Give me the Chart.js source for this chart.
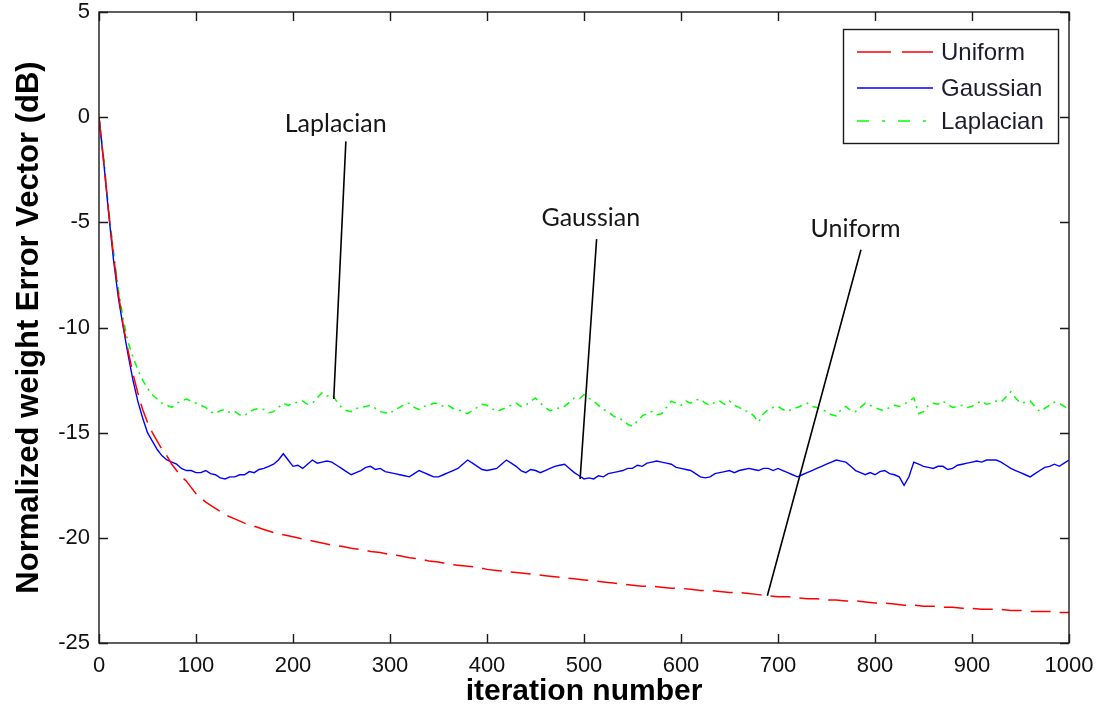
<!DOCTYPE html>
<html>
<head>
<meta charset="utf-8">
<script src="https://cdn.jsdelivr.net/npm/chart.js@4.4.1/dist/chart.umd.min.js"></script>
<style>
  html, body { margin: 0; padding: 0; background: #fff; }
  #chart { display: block; }
</style>
</head>
<body>
<canvas id="chart" width="1100" height="712"></canvas>
<script>
// iteration index for the smooth uniform curve
const iterations = [
  0, 5, 10, 15, 20, 25, 30, 35, 40, 45, 50, 55, 60, 65, 70, 75, 80, 85, 90, 95, 100,
  110, 120, 130, 140, 150, 160, 170, 180, 190, 200,
  210, 220, 230, 240, 250, 260, 270, 280, 290, 300,
  310, 320, 330, 340, 350, 360, 370, 380, 390, 400,
  410, 420, 430, 440, 450, 460, 470, 480, 490, 500,
  510, 520, 530, 540, 550, 560, 570, 580, 590, 600,
  610, 620, 630, 640, 650, 660, 670, 680, 690, 700,
  710, 720, 730, 740, 750, 760, 770, 780, 790, 800,
  810, 820, 830, 840, 850, 860, 870, 880, 890, 900,
  910, 920, 930, 940, 950, 960, 970, 980, 990, 1000
];

// iteration index for the noisy gaussian / laplacian curves
const iterationsFine = [
  0, 5, 10, 15, 20, 25, 30, 35, 40, 45, 50, 55, 60, 65, 70, 75, 80, 85, 90, 95, 100,
  105, 110, 115, 120, 125, 130, 135, 140, 145, 150, 155, 160, 165, 170, 175, 180, 185, 190, 195, 200,
  205, 210, 215, 220, 225, 230, 235, 240, 245, 250, 255, 260, 265, 270, 275, 280, 285, 290, 295, 300,
  305, 310, 315, 320, 325, 330, 335, 340, 345, 350, 355, 360, 365, 370, 375, 380, 385, 390, 395, 400,
  405, 410, 415, 420, 425, 430, 435, 440, 445, 450, 455, 460, 465, 470, 475, 480, 485, 490, 495, 500,
  505, 510, 515, 520, 525, 530, 535, 540, 545, 550, 555, 560, 565, 570, 575, 580, 585, 590, 595, 600,
  605, 610, 615, 620, 625, 630, 635, 640, 645, 650, 655, 660, 665, 670, 675, 680, 685, 690, 695, 700,
  705, 710, 715, 720, 725, 730, 735, 740, 745, 750, 755, 760, 765, 770, 775, 780, 785, 790, 795, 800,
  805, 810, 815, 820, 825, 830, 835, 840, 845, 850, 855, 860, 865, 870, 875, 880, 885, 890, 895, 900,
  905, 910, 915, 920, 925, 930, 935, 940, 945, 950, 955, 960, 965, 970, 975, 980, 985, 990, 995, 1000
];

// normalized weight error vector in dB for each noise type
const uniformDb = [
  0, -2.2, -4.5, -6.6, -8.4, -9.9, -11.1, -12.2, -13.1, -13.9, -14.5, -15.0, -15.4, -15.8, -16.1, -16.5, -16.8, -17.1, -17.3, -17.6, -17.9,
  -18.3, -18.6, -18.9, -19.1, -19.3, -19.45, -19.6, -19.75, -19.85, -19.95,
  -20.05, -20.15, -20.25, -20.35, -20.4, -20.5, -20.55, -20.65, -20.7, -20.8,
  -20.85, -20.95, -21.0, -21.1, -21.15, -21.25, -21.3, -21.35, -21.4, -21.5,
  -21.55, -21.6, -21.65, -21.7, -21.75, -21.8, -21.85, -21.9, -21.95, -22.0,
  -22.05, -22.1, -22.15, -22.2, -22.25, -22.3, -22.3, -22.35, -22.4, -22.4,
  -22.45, -22.5, -22.5, -22.55, -22.6, -22.6, -22.65, -22.7, -22.75, -22.8,
  -22.8, -22.85, -22.9, -22.9, -22.95, -22.95, -23.0, -23.0, -23.05, -23.1,
  -23.1, -23.15, -23.2, -23.2, -23.25, -23.25, -23.3, -23.3, -23.35, -23.35,
  -23.4, -23.4, -23.4, -23.45, -23.45, -23.5, -23.5, -23.5, -23.55, -23.55
];

const gaussianDb = [
  0, -2.2, -4.6, -6.8, -8.6, -10.0, -11.3, -12.5, -13.5, -14.3, -15.0, -15.4, -15.8, -16.1, -16.3, -16.4, -16.5, -16.7, -16.8, -16.8, -16.9,
  -16.9, -16.8, -16.95, -17.0, -17.15, -17.2, -17.1, -17.1, -17.0, -17.0, -16.85, -16.9, -16.75, -16.7, -16.6, -16.5, -16.3, -16.0, -16.3, -16.6,
  -16.55, -16.7, -16.5, -16.3, -16.45, -16.4, -16.35, -16.4, -16.55, -16.7, -16.85, -17.0, -16.9, -16.8, -16.65, -16.6, -16.75, -16.7, -16.85, -16.9,
  -16.95, -17.0, -17.05, -17.1, -16.95, -16.8, -16.9, -17.0, -17.1, -17.1, -17.0, -16.9, -16.8, -16.7, -16.5, -16.3, -16.45, -16.6, -16.75, -16.8,
  -16.75, -16.7, -16.5, -16.3, -16.45, -16.6, -16.8, -16.9, -16.75, -16.8, -16.9, -16.8, -16.7, -16.6, -16.55, -16.5, -16.7, -16.9, -17.05, -17.2,
  -17.15, -17.2, -17.05, -17.1, -16.95, -16.9, -16.85, -16.8, -16.7, -16.7, -16.55, -16.6, -16.45, -16.4, -16.35, -16.4, -16.45, -16.5, -16.65, -16.7,
  -16.75, -16.8, -16.95, -17.1, -17.15, -17.1, -16.95, -16.9, -16.85, -16.8, -16.9, -16.8, -16.75, -16.7, -16.75, -16.8, -16.7, -16.7, -16.8, -16.7,
  -16.8, -16.9, -17.0, -17.1, -17.0, -16.9, -16.8, -16.7, -16.6, -16.5, -16.4, -16.3, -16.35, -16.4, -16.6, -16.8, -16.9, -17.0, -16.9, -17.0,
  -16.85, -16.8, -16.95, -17.0, -17.1, -17.5, -17.1, -16.4, -16.5, -16.6, -16.65, -16.7, -16.6, -16.6, -16.75, -16.7, -16.55, -16.5, -16.45, -16.4,
  -16.35, -16.4, -16.3, -16.3, -16.3, -16.4, -16.55, -16.7, -16.8, -16.9, -17.0, -17.1, -16.95, -16.8, -16.65, -16.6, -16.5, -16.6, -16.45, -16.3
];

const laplacianDb = [
  0, -2.0, -4.4, -6.4, -8.2, -9.6, -10.7, -11.4, -12.0, -12.5, -12.9, -13.2, -13.4, -13.6, -13.7, -13.8, -13.6, -13.5, -13.4, -13.5, -13.6,
  -13.7, -13.8, -14.0, -14.1, -13.95, -13.9, -14.05, -14.0, -14.15, -14.2, -14.0, -13.9, -13.85, -13.9, -14.05, -14.0, -13.8, -13.6, -13.7, -13.6,
  -13.55, -13.5, -13.65, -13.6, -13.35, -13.1, -13.25, -13.2, -13.5, -13.8, -13.95, -14.0, -13.85, -13.8, -13.75, -13.7, -13.85, -14.0, -14.05, -14.1,
  -13.9, -13.8, -13.65, -13.6, -13.8, -13.9, -13.75, -13.7, -13.6, -13.6, -13.75, -13.7, -13.85, -13.9, -14.0, -14.1, -13.95, -13.8, -13.65, -13.7,
  -13.85, -14.0, -13.9, -13.8, -13.7, -13.6, -13.75, -13.7, -13.5, -13.35, -13.6, -13.8, -13.95, -13.9, -13.8, -13.75, -13.55, -13.35, -13.4, -13.2,
  -13.35, -13.5, -13.7, -13.9, -14.0, -14.2, -14.3, -14.4, -14.6, -14.7, -14.45, -14.2, -14.1, -14.0, -14.15, -14.1, -13.8, -13.5, -13.6, -13.7,
  -13.5, -13.6, -13.45, -13.4, -13.6, -13.7, -13.55, -13.5, -13.65, -13.5, -13.7, -13.8, -13.95, -14.0, -14.2, -14.5, -14.1, -13.9, -13.8, -13.75,
  -13.9, -14.0, -13.85, -13.8, -13.7, -13.6, -13.75, -13.8, -13.9, -14.0, -14.15, -14.2, -13.9, -13.75, -13.95, -14.0, -13.8, -13.6, -13.7, -13.8,
  -13.9, -13.95, -13.8, -13.7, -13.75, -13.65, -13.5, -13.35, -14.1, -14.0, -13.7, -13.6, -13.65, -13.5, -13.65, -13.8, -13.75, -13.7, -13.8, -13.75,
  -13.6, -13.5, -13.65, -13.6, -13.5, -13.55, -13.3, -13.05, -13.35, -13.6, -13.55, -13.5, -13.75, -14.0, -13.85, -13.7, -13.55, -13.6, -13.75, -13.9
];

const xTickValues = [0, 100, 200, 300, 400, 500, 600, 700, 800, 900, 1000];
const yTickValues = [-25, -20, -15, -10, -5, 0, 5];

// callout labels: text, label position, then the line from top to the curve
const calloutText = ['Laplacian', 'Gaussian', 'Uniform'];
const calloutLabelAt = [[244, -0.3], [507, -4.8], [780, -5.3]];
const calloutLineFrom = [[254.5, -1.15], [513, -5.8], [785.5, -6.3]];
const calloutLineTo = [[242, -13.4], [496, -17.2], [689, -22.75]];

const toPoints = (xs, ys) => ys.map((y, i) => ({ x: xs[i], y: y }));

const tickFont = { family: "'Liberation Sans', Arial, sans-serif", size: 22 };
const xTitleFont = { family: "'Liberation Sans', Arial, sans-serif", size: 30, weight: 'bold' };
const yTitleFont = { family: "'Liberation Sans', Arial, sans-serif", size: 31, weight: 'bold' };

// box, inward tick marks, callouts and legend
const matlabStyle = {
  id: 'matlabStyle',
  afterDatasetsDraw(chart) {
    const ctx = chart.ctx;
    const a = chart.chartArea;
    const xs = chart.scales.x;
    const ys = chart.scales.y;
    const tl = 9;

    ctx.save();
    ctx.strokeStyle = '#1a1a1a';
    ctx.lineWidth = 1.4;
    ctx.setLineDash([]);
    ctx.strokeRect(a.left, a.top, a.right - a.left, a.bottom - a.top);

    ctx.beginPath();
    xs.ticks.forEach(t => {
      const px = Math.round(xs.getPixelForValue(t.value)) + 0.5;
      ctx.moveTo(px, a.bottom); ctx.lineTo(px, a.bottom - tl);
      ctx.moveTo(px, a.top); ctx.lineTo(px, a.top + tl);
    });
    ys.ticks.forEach(t => {
      const py = Math.round(ys.getPixelForValue(t.value)) + 0.5;
      ctx.moveTo(a.left, py); ctx.lineTo(a.left + tl, py);
      ctx.moveTo(a.right, py); ctx.lineTo(a.right - tl, py);
    });
    ctx.stroke();

    // callouts
    ctx.strokeStyle = '#000';
    ctx.lineWidth = 1.6;
    ctx.beginPath();
    calloutLineFrom.forEach((p, i) => {
      const q = calloutLineTo[i];
      ctx.moveTo(xs.getPixelForValue(p[0]), ys.getPixelForValue(p[1]));
      ctx.lineTo(xs.getPixelForValue(q[0]), ys.getPixelForValue(q[1]));
    });
    ctx.stroke();

    ctx.fillStyle = '#161616';
    ctx.font = "25px Lato, 'Open Sans', sans-serif";
    ctx.textAlign = 'center';
    ctx.textBaseline = 'middle';
    calloutText.forEach((txt, i) => {
      const p = calloutLabelAt[i];
      ctx.fillText(txt, xs.getPixelForValue(p[0]), ys.getPixelForValue(p[1]));
    });

    // legend
    const lx = a.right - 226, ly = a.top + 17, lw = 215, lh = 114;
    ctx.fillStyle = '#fff';
    ctx.fillRect(lx, ly, lw, lh);
    ctx.strokeStyle = '#1a1a1a';
    ctx.lineWidth = 1.4;
    ctx.strokeRect(lx + 0.5, ly + 0.5, lw, lh);

    const legendDash = [[34, 11], [], [12, 13, 3, 13]];
    const rowY = [23, 59, 92];
    ctx.font = "24px 'Liberation Sans', Arial, sans-serif";
    ctx.textAlign = 'left';
    chart.data.datasets.forEach((ds, i) => {
      const y = ly + rowY[i];
      ctx.strokeStyle = ds.borderColor;
      ctx.lineWidth = 1.5;
      ctx.setLineDash(legendDash[i]);
      ctx.beginPath();
      ctx.moveTo(lx + 14, y);
      ctx.lineTo(lx + 90, y);
      ctx.stroke();
      ctx.setLineDash([]);
      ctx.fillStyle = '#1c1c2c';
      ctx.fillText(ds.label, lx + 98, y + 1);
    });
    ctx.restore();
  }
};

new Chart(document.getElementById('chart'), {
  type: 'line',
  data: {
    datasets: [
      {
        label: 'Uniform',
        data: toPoints(iterations, uniformDb),
        borderColor: '#ff0000',
        borderWidth: 1.5,
        borderDash: [20, 9]
      },
      {
        label: 'Gaussian',
        data: toPoints(iterationsFine, gaussianDb),
        borderColor: '#0000ff',
        borderWidth: 1.4
      },
      {
        label: 'Laplacian',
        data: toPoints(iterationsFine, laplacianDb),
        borderColor: '#00ff00',
        borderWidth: 1.5,
        borderDash: [7, 5, 2, 5]
      }
    ]
  },
  options: {
    responsive: false,
    animation: false,
    devicePixelRatio: 1,
    elements: {
      point: { radius: 0 },
      line: { tension: 0, fill: false }
    },
    layout: { padding: { top: 12, right: 31, bottom: 0, left: 0 } },
    plugins: {
      legend: { display: false },
      tooltip: { enabled: false }
    },
    scales: {
      x: {
        type: 'linear',
        min: 0,
        max: 1000,
        afterBuildTicks: (s) => { s.ticks = xTickValues.map(v => ({ value: v })); },
        afterFit: (s) => { s.height = 69; s.paddingLeft = 0; s.paddingRight = 0; },
        grid: { display: false, drawTicks: false },
        border: { display: false },
        ticks: { autoSkip: false, maxRotation: 0, padding: 10, color: '#111', font: tickFont, callback: (v) => String(v) },
        title: { display: true, text: 'iteration number', color: '#000', font: xTitleFont, padding: { top: 0, bottom: 2 } }
      },
      y: {
        type: 'linear',
        min: -25,
        max: 5,
        afterBuildTicks: (s) => { s.ticks = yTickValues.map(v => ({ value: v })); },
        afterFit: (s) => { s.width = 99; s.paddingTop = 0; s.paddingBottom = 0; },
        grid: { display: false, drawTicks: false },
        border: { display: false },
        ticks: { autoSkip: false, padding: 9, color: '#111', font: tickFont, callback: (v) => String(v) },
        title: { display: true, text: 'Normalized weight Error Vector (dB)', color: '#000', font: yTitleFont, padding: { top: 11, bottom: 0 } }
      }
    }
  },
  plugins: [matlabStyle]
});
</script>
</body>
</html>
